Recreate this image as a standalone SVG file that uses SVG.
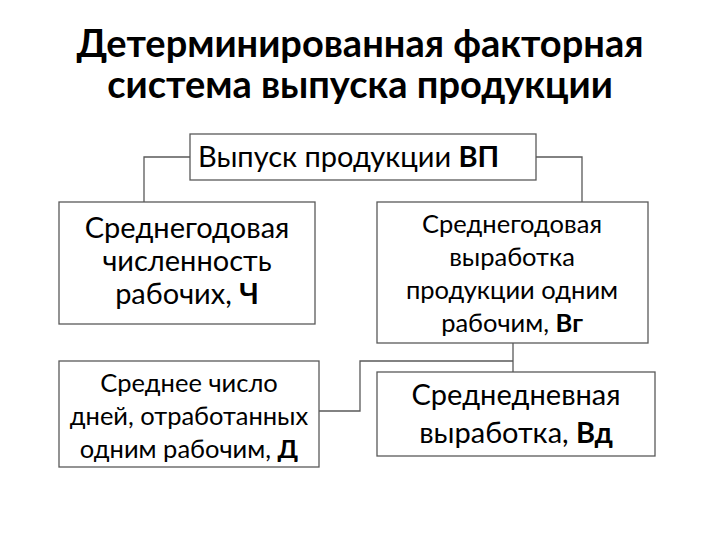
<svg xmlns="http://www.w3.org/2000/svg" width="720" height="540" viewBox="0 0 720 540">
<style>
.box{fill:#fff;stroke:#595959;stroke-width:1.3}
.ln{fill:none;stroke:#595959;stroke-width:1.3}
text{font-family:Lato,"Liberation Sans",sans-serif;fill:#000}
.t{font-size:38px;font-weight:bold;text-anchor:middle}
.l{font-size:29px;text-anchor:middle}
.s{font-size:25.5px;text-anchor:middle}
.b{font-weight:bold}
</style>
<rect width="720" height="540" fill="#fff"/>
<g id="title">
<text class="t" x="360" y="57">Детерминированная факторная</text>
<text class="t" x="360" y="98">система выпуска продукции</text>
</g>
<g id="connectors">
<polyline class="ln" points="190,157 144,157 144,202"/>
<polyline class="ln" points="536,157 582,157 582,202"/>
<line class="ln" x1="513" y1="343" x2="513" y2="372"/>
<polyline class="ln" points="513,361 360,361 360,411 319,411"/>
</g>
<g id="vp">
<rect class="box" x="190" y="134" width="346" height="46"/>
<text class="l" x="198" y="167" style="text-anchor:start">Выпуск продукции <tspan class="b">ВП</tspan></text>
</g>
<g id="ch">
<rect class="box" x="59" y="202" width="256" height="122"/>
<text class="l" x="187" y="238">Среднегодовая</text>
<text class="l" x="187" y="271">численность</text>
<text class="l" x="187" y="304">рабочих,  <tspan class="b">Ч</tspan></text>
</g>
<g id="vg">
<rect class="box" x="377" y="202" width="271" height="141"/>
<text class="s" x="512" y="233">Среднегодовая</text>
<text class="s" x="512" y="266">выработка</text>
<text class="s" x="512" y="299">продукции одним</text>
<text class="s" x="512" y="332">рабочим,  <tspan class="b">Вг</tspan></text>
</g>
<g id="d">
<rect class="box" x="59" y="361" width="260" height="106"/>
<text class="s" x="189" y="392">Среднее число</text>
<text class="s" x="189" y="425">дней, отработанных</text>
<text class="s" x="189" y="458">одним рабочим,  <tspan class="b">Д</tspan></text>
</g>
<g id="vd">
<rect class="box" x="377" y="372" width="278" height="84"/>
<text class="l" x="516" y="405">Среднедневная</text>
<text class="l" x="516" y="443">выработка,  <tspan class="b">Вд</tspan></text>
</g>
</svg>
